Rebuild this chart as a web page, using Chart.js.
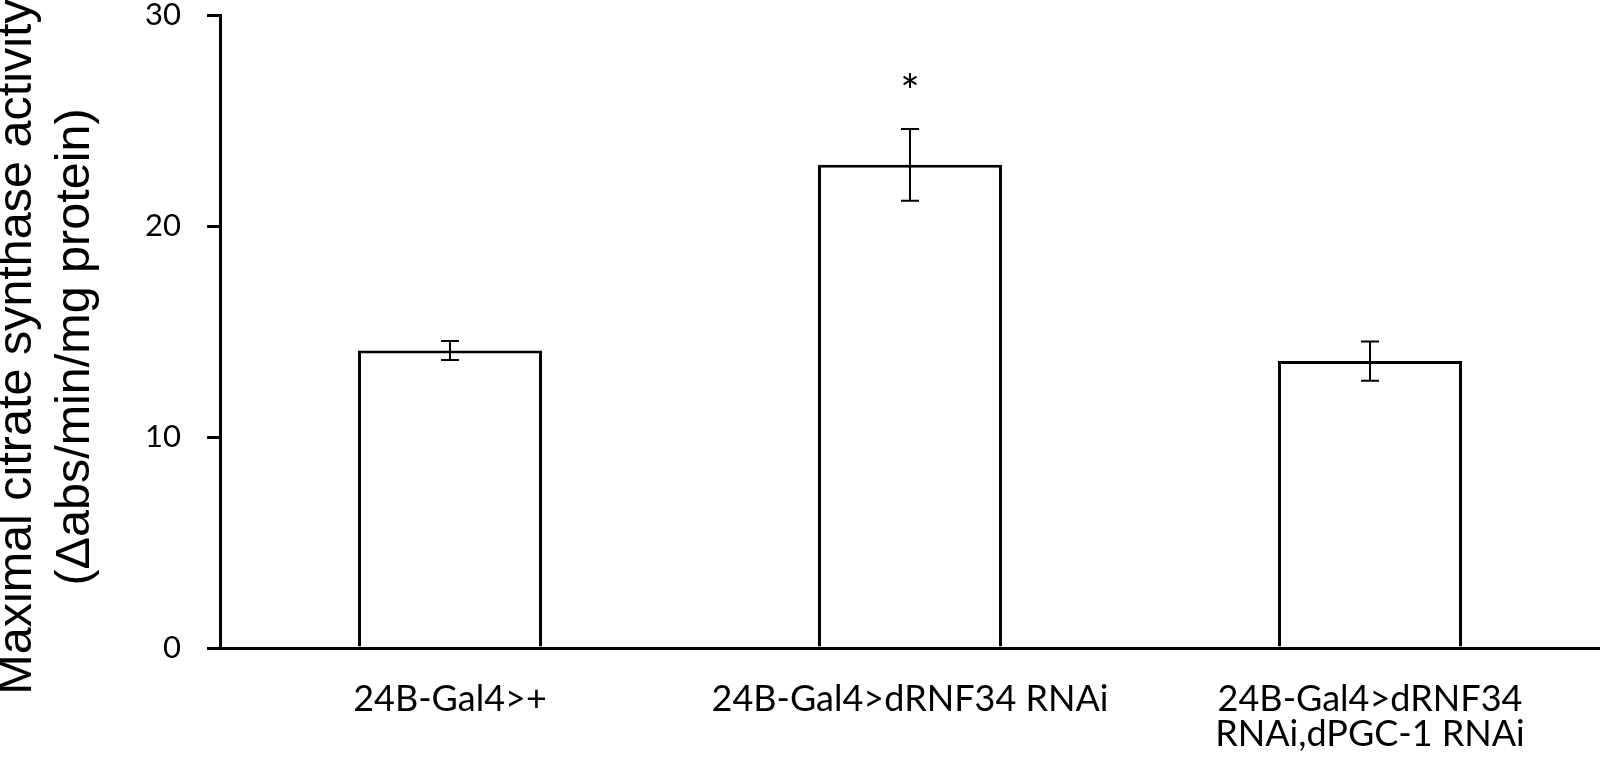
<!DOCTYPE html>
<html>
<head>
<meta charset="utf-8">
<title>Maximal citrate synthase activity</title>
<script src="https://cdn.jsdelivr.net/npm/chart.js@4"></script>
<style>
  html, body { margin: 0; padding: 0; background: #fff; }
  #wrap { width: 1600px; height: 769px; }
</style>
</head>
<body>
<div id="wrap"><canvas id="chart" width="1600" height="769"></canvas></div>
<script>
// genotypes on the x axis (one array of lines per label)
const groups = [
    ['24B-Gal4>+'],
    ['24B-Gal4>dRNF34 RNAi'],
    ['24B-Gal4>dRNF34', 'RNAi,dPGC-1 RNAi']
];
const activity = [14.1, 22.9, 13.6];      // mean value per group
const activityErr = [0.45, 1.7, 0.93];    // error bar (+/-)
const marks = ['', '*', ''];              // significance marks
const yTitle = ['Maximal citrate synthase activity', '(\u0394abs/min/mg protein)'];
const yMin = 0, yMax = 30, yStep = 10;

// error bars and the asterisk above them
const errorBars = {
    id: 'errorBars',
    afterDatasetsDraw(chart) {
        const ctx = chart.ctx;
        const y = chart.scales.y;
        const meta = chart.getDatasetMeta(0);
        ctx.save();
        ctx.strokeStyle = '#000';
        ctx.lineWidth = 2;
        meta.data.forEach((bar, i) => {
            const top = y.getPixelForValue(activity[i] + activityErr[i]);
            const bottom = y.getPixelForValue(activity[i] - activityErr[i]);
            ctx.beginPath();
            ctx.moveTo(bar.x, top);
            ctx.lineTo(bar.x, bottom);
            ctx.moveTo(bar.x - 9, top);
            ctx.lineTo(bar.x + 9, top);
            ctx.moveTo(bar.x - 9, bottom);
            ctx.lineTo(bar.x + 9, bottom);
            ctx.stroke();
            if (marks[i]) {
                ctx.fillStyle = '#000';
                ctx.font = '46px Lato';
                ctx.textAlign = 'center';
                ctx.textBaseline = 'alphabetic';
                ctx.fillText(marks[i], bar.x, top - 21);
            }
        });
        ctx.restore();
    }
};

// y axis title, drawn by hand so it is not squeezed to the axis height
const axisTitle = {
    id: 'axisTitle',
    afterDraw(chart) {
        const ctx = chart.ctx;
        ctx.save();
        ctx.fillStyle = '#000';
        ctx.font = '48.5px "Liberation Sans"';
        ctx.textAlign = 'center';
        ctx.textBaseline = 'middle';
        yTitle.forEach((line, i) => {
            ctx.save();
            ctx.translate(18 + i * 58, 347);
            ctx.rotate(-Math.PI / 2);
            ctx.fillText(line, 0, 0);
            ctx.restore();
        });
        ctx.restore();
    }
};

const ctx = document.getElementById('chart').getContext('2d');
new Chart(ctx, {
    type: 'bar',
    data: {
        labels: groups,
        datasets: [{
            data: activity,
            backgroundColor: '#fff',
            borderColor: '#000',
            borderWidth: 3,
            barPercentage: 0.4,
            categoryPercentage: 1.0
        }]
    },
    options: {
        responsive: false,
        animation: false,
        layout: { padding: { top: 15, right: 0, left: 0, bottom: 0 } },
        plugins: {
            legend: { display: false },
            tooltip: { enabled: false }
        },
        scales: {
            x: {
                grid: { display: false, drawTicks: false },
                border: { display: true, color: '#000', width: 3 },
                ticks: {
                    color: '#000',
                    padding: 34,
                    maxRotation: 0,
                    font: { family: 'Lato', size: 36, lineHeight: '35px' }
                },
                afterFit(scale) { scale.height = 121; }
            },
            y: {
                min: yMin,
                max: yMax,
                grid: {
                    drawOnChartArea: false,
                    drawTicks: true,
                    tickLength: 13,
                    color: '#000',
                    lineWidth: 3
                },
                border: { display: true, color: '#000', width: 3 },
                ticks: {
                    stepSize: yStep,
                    color: '#000',
                    padding: 26,
                    font: { family: 'Lato', size: 31, lineHeight: 1 }
                },
                afterFit(scale) {
                    scale.width = 220;
                    scale.paddingTop = 0;
                    scale.paddingBottom = 0;
                }
            }
        }
    },
    plugins: [errorBars, axisTitle]
});
</script>
</body>
</html>
